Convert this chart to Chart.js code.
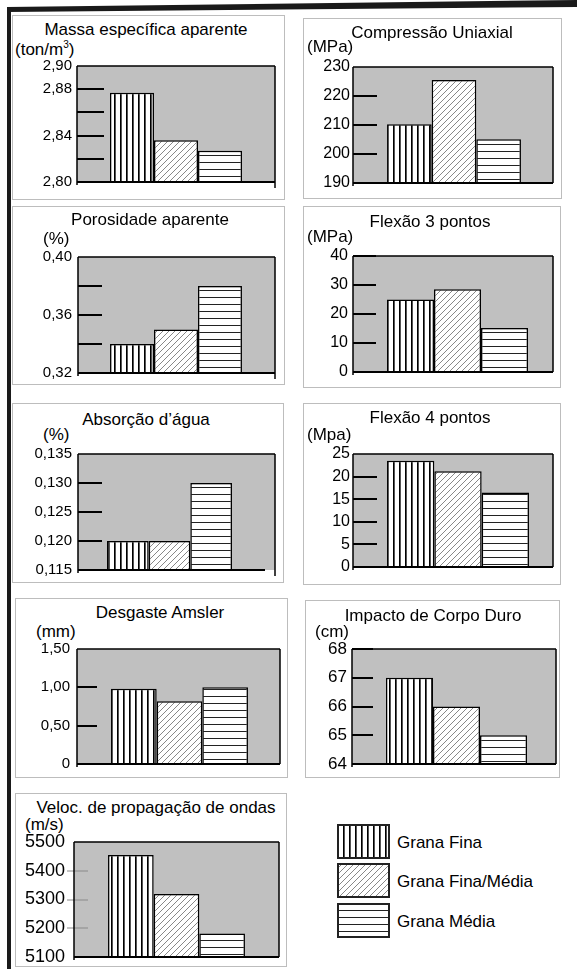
<!DOCTYPE html>
<html>
<head>
<meta charset="utf-8">
<title>Propriedades tecnológicas</title>
<script src="https://cdn.jsdelivr.net/npm/chart.js"></script>
<style>
  body { margin: 0; background: #fff; font-family: "Liberation Sans", Arial, sans-serif; }
  #page { position: relative; width: 577px; height: 969px; overflow: hidden; }
  .box { position: absolute; border: 1px solid #bdbdbd; box-sizing: border-box; }
  .ttl, .unit, .leg { position: absolute; white-space: nowrap; line-height: 1; color: #000; font-size: 17px; }
  .ttl { text-align: center; width: 300px; }
  .unit sup { font-size: 10px; line-height: 0; }
  canvas { position: absolute; }
</style>
</head>
<body>
<div id="page">
  <svg style="position:absolute;left:0;top:0" width="577" height="969">
    <polygon points="7,7 577,0 577,7 7,12" fill="#1a1a1a"/>
    <rect x="7" y="7" width="4" height="962" fill="#1a1a1a"/>
  </svg>
</div>
<script>
  const series = ['Grana Fina', 'Grana Fina/Média', 'Grana Média'];

  // valores (Grana Fina, Fina/Média, Média)
  const massa = [2.877, 2.836, 2.827];
  const compressao = [210.3, 225.5, 205.1];
  const porosidade = [0.34, 0.35, 0.38];
  const flexao3 = [25, 28.5, 15.2];
  const absorcao = [0.12, 0.12, 0.13];
  const flexao4 = [23.5, 21.2, 16.5];
  const desgaste = [0.98, 0.82, 1.0];
  const impacto = [67, 66, 65];
  const veloc = [5455, 5319, 5182];

  // rótulos do eixo y, do menor para o maior
  const massaTicks = ['2,80', '', '2,84', '', '2,88', '2,90'];
  const compressaoTicks = ['190', '200', '210', '220', '230'];
  const porosidadeTicks = ['0,32', '', '0,36', '', '0,40'];
  const flexao3Ticks = ['0', '10', '20', '30', '40'];
  const absorcaoTicks = ['0,115', '0,120', '0,125', '0,130', '0,135'];
  const flexao4Ticks = ['0', '5', '10', '15', '20', '25'];
  const desgasteTicks = ['0', '0,50', '1,00', '1,50'];
  const impactoTicks = ['64', '65', '66', '67', '68'];
  const velocTicks = ['5100', '5200', '5300', '5400', '5500'];

  const panels = [
    { title: 'Massa específica aparente', unit: '(ton/m<sup>3</sup>)', values: massa, ticks: massaTicks,
      min: 2.80, max: 2.90, step: 0.02, box: [12, 15, 273, 185], plot: [77, 66, 275, 182], cr: 275, pct: 0.667,
      font: 15, pad: 5, t: [146, 35], u: [15, 55], mark: { len: 27, tail: true } },
    { title: 'Compressão Uniaxial', unit: '(MPa)', values: compressao, ticks: compressaoTicks,
      min: 190, max: 230, step: 10, box: [303, 18, 259, 181], plot: [353, 67, 553, 183], cr: 555, pct: 0.663,
      font: 16, pad: 3, t: [432, 38], u: [307, 52], mark: { len: 24 } },
    { title: 'Porosidade aparente', unit: '(%)', values: porosidade, ticks: porosidadeTicks,
      min: 0.32, max: 0.40, step: 0.02, box: [12, 206, 273, 179], plot: [78, 257, 275, 373], cr: 274, pct: 0.673,
      font: 15, pad: 6, t: [150, 225], u: [43, 244], mark: { len: 24, tail: true } },
    { title: 'Flexão 3 pontos', unit: '(MPa)', values: flexao3, ticks: flexao3Ticks,
      min: 0, max: 40, step: 10, box: [303, 206, 258, 182], plot: [353, 256, 553, 372], cr: 562, pct: 0.675,
      font: 16, pad: 5, t: [430, 227], u: [307, 242], mark: { len: 23, top: true } },
    { title: 'Absorção d’água', unit: '(%)', values: absorcao, ticks: absorcaoTicks,
      min: 0.115, max: 0.135, step: 0.005, box: [12, 403, 272, 180], plot: [78, 454, 275, 570], cr: 261, pct: 0.683,
      font: 15, pad: 6, t: [146, 425], u: [43, 440], mark: { len: 24, tail: true, bottomEnd: 265 } },
    { title: 'Flexão 4 pontos', unit: '(Mpa)', values: flexao4, ticks: flexao4Ticks,
      min: 0, max: 25, step: 5, box: [303, 403, 258, 182], plot: [353, 454, 553, 567], cr: 563, pct: 0.676,
      font: 16, pad: 3, t: [430, 423], u: [307, 440], mark: { len: 24 } },
    { title: 'Desgaste Amsler', unit: '(mm)', values: desgaste, ticks: desgasteTicks,
      min: 0, max: 1.5, step: 0.5, box: [15, 598, 273, 180], plot: [77, 649, 280, 764], cr: 282, pct: 0.668,
      font: 15, pad: 7, t: [160, 618], u: [36, 637], mark: { len: 20 } },
    { title: 'Impacto de Corpo Duro', unit: '(cm)', values: impacto, ticks: impactoTicks,
      min: 64, max: 68, step: 1, box: [305, 600, 255, 178], plot: [352, 649, 556, 764], cr: 561, pct: 0.675,
      font: 17, pad: 5, t: [433, 621], u: [315, 637], mark: { len: 21, top: true } },
    { title: 'Veloc. de propagação de ondas', unit: '(m/s)', values: veloc, ticks: velocTicks,
      min: 5100, max: 5500, step: 100, box: [15, 793, 272, 174], plot: [74, 842, 279, 957], cr: 279, pct: 0.668,
      font: 18, pad: 9, t: [156, 813], u: [25, 830], mark: { len: 21, start: -7, color: '#8a8a8a', width: 1 } }
  ];

  function tile(w, h, draw) {
    const c = document.createElement('canvas');
    c.width = w; c.height = h;
    const g = c.getContext('2d');
    g.fillStyle = '#fff';
    g.fillRect(0, 0, w, h);
    draw(g);
    return c;
  }
  const tiles = [
    tile(6, 6, g => { g.fillStyle = '#000'; g.fillRect(0, 0, 1, 6); g.fillStyle = '#555'; g.fillRect(1, 0, 1, 6); }),
    tile(6, 6, g => {
      g.strokeStyle = '#6a6a6a'; g.lineWidth = 0.8; g.beginPath();
      g.moveTo(0, 6); g.lineTo(6, 0); g.moveTo(-1, 1); g.lineTo(1, -1); g.moveTo(5, 7); g.lineTo(7, 5);
      g.stroke();
    }),
    tile(6, 7, g => { g.fillStyle = '#222'; g.fillRect(0, 0, 6, 1); })
  ];

  // fundo cinza, marcas internas e moldura do gráfico
  const framePlugin = {
    id: 'frame',
    beforeDatasetsDraw(chart, args, o) {
      const { ctx, chartArea: a, scales: { y } } = chart;
      ctx.save();
      ctx.fillStyle = '#c0c0c0';
      ctx.fillRect(a.left, a.top, o.right - a.left, a.bottom - a.top);
      ctx.strokeStyle = o.color || '#000';
      ctx.lineWidth = o.width || 2;
      const n = y.ticks.length;
      y.ticks.forEach((t, i) => {
        if (i === 0 || (i === n - 1 && !o.top)) return;
        const py = Math.round(y.getPixelForValue(t.value));
        const x0 = a.left + (o.start || 0);
        ctx.beginPath();
        ctx.moveTo(x0, py);
        ctx.lineTo(x0 + o.len, py);
        ctx.stroke();
      });
      ctx.restore();
    },
    afterDatasetsDraw(chart, args, o) {
      const { ctx, chartArea: a } = chart;
      ctx.save();
      ctx.strokeStyle = '#000';
      ctx.lineWidth = 1.5;
      ctx.beginPath();
      ctx.moveTo(a.left, a.top); ctx.lineTo(o.right, a.top);
      ctx.moveTo(o.right, a.top); ctx.lineTo(o.right, a.bottom);
      ctx.moveTo(a.left, a.top); ctx.lineTo(a.left, a.bottom + 3);
      if (o.tail) { ctx.moveTo(o.right, a.bottom); ctx.lineTo(o.right, a.bottom + 6); }
      ctx.stroke();
      ctx.lineWidth = 2;
      ctx.beginPath();
      ctx.moveTo(a.left, a.bottom); ctx.lineTo(o.bottomEnd || o.right, a.bottom);
      ctx.stroke();
      ctx.restore();
    }
  };

  const page = document.getElementById('page');
  function addText(cls, html, left, top) {
    const d = document.createElement('div');
    d.className = cls;
    d.innerHTML = html;
    d.style.left = left + 'px';
    d.style.top = top + 'px';
    page.appendChild(d);
  }

  panels.forEach(p => {
    const [bx, by, bw, bh] = p.box;
    const [pl, pt, pr, pb] = p.plot;
    const box = document.createElement('div');
    box.className = 'box';
    Object.assign(box.style, { left: bx + 'px', top: by + 'px', width: bw + 'px', height: bh + 'px' });
    page.appendChild(box);

    addText('ttl', p.title, p.t[0] - 150, p.t[1] - 14.4);
    addText('unit', p.unit, p.u[0], p.u[1] - 14.4);

    const cw = bw + 12, ch = pb - by + 24;
    const cv = document.createElement('canvas');
    cv.width = cw; cv.height = ch;
    cv.style.left = bx + 'px'; cv.style.top = by + 'px';
    page.appendChild(cv);
    const ctx = cv.getContext('2d');

    const frame = Object.assign({ right: pr - bx }, p.mark);
    if (p.mark.bottomEnd) frame.bottomEnd = p.mark.bottomEnd - bx;

    new Chart(ctx, {
      type: 'bar',
      data: {
        labels: [''],
        datasets: series.map((s, i) => ({
          label: s,
          data: [p.values[i]],
          backgroundColor: ctx.createPattern(tiles[i], 'repeat'),
          borderColor: '#000',
          borderWidth: 1.5,
          borderSkipped: 'start',
          base: p.min,
          barPercentage: 1,
          categoryPercentage: p.pct
        }))
      },
      options: {
        responsive: false,
        animation: false,
        events: [],
        layout: { padding: { left: 0, top: pt - by, right: cw - (p.cr - bx), bottom: ch - (pb - by) } },
        scales: {
          x: { display: false },
          y: {
            min: p.min, max: p.max,
            grid: { display: false, drawTicks: false },
            border: { display: false },
            ticks: {
              stepSize: p.step, autoSkip: false, padding: p.pad, color: '#000',
              font: { family: '"Liberation Sans", Arial, sans-serif', size: p.font },
              callback: (v, i) => p.ticks[i]
            },
            afterFit: s => { s.width = pl - bx; }
          }
        },
        plugins: {
          legend: { display: false },
          tooltip: { enabled: false },
          frame: frame
        }
      },
      plugins: [framePlugin]
    });
  });

  // legenda
  const legTops = [824, 863, 903];
  series.forEach((s, i) => {
    const sw = document.createElement('canvas');
    sw.width = 53; sw.height = 35;
    sw.style.left = '337px'; sw.style.top = legTops[i] + 'px';
    page.appendChild(sw);
    const g = sw.getContext('2d');
    g.fillStyle = g.createPattern(tiles[i], 'repeat');
    g.fillRect(0, 0, 53, 35);
    g.strokeStyle = '#222';
    g.lineWidth = 2;
    g.strokeRect(1, 1, 51, 33);
    addText('leg', s, 397, legTops[i] + 18 - 8.3);
  });
</script>
</body>
</html>
